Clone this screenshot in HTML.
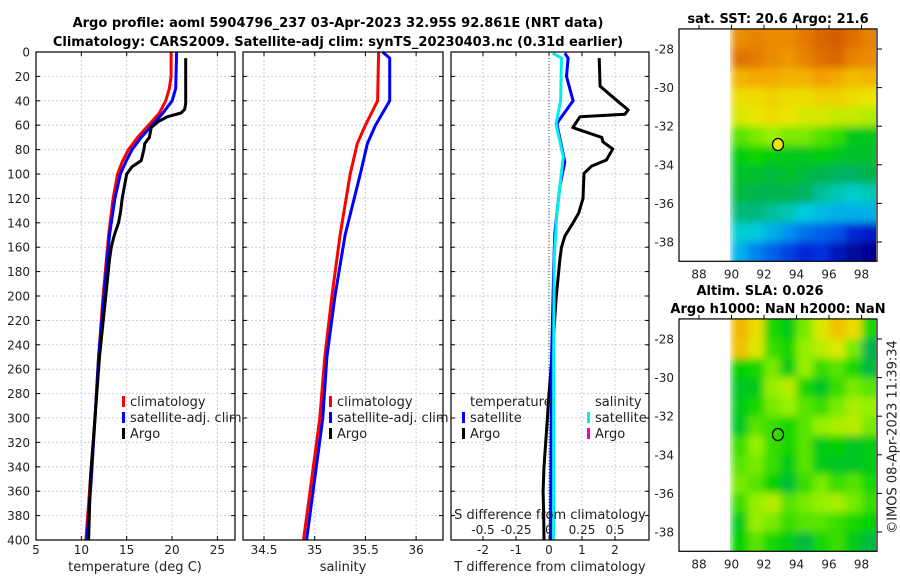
<!DOCTYPE html>
<html><head><meta charset="utf-8">
<style>
html,body{margin:0;padding:0;background:#fff;}
svg{display:block;font-family:"DejaVu Sans","Liberation Sans",sans-serif;}
#stamp{position:absolute;left:893px;top:437px;width:0;height:0;}
#stamp span{position:absolute;left:0;top:0;white-space:nowrap;font:13px "DejaVu Sans","Liberation Sans",sans-serif;color:#222;transform:translate(-50%,-50%) rotate(-90deg);}
</style></head>
<body>
<svg id="fig" width="900" height="580" viewBox="0 0 900 580" xmlns="http://www.w3.org/2000/svg">
<defs>
<filter id="blur" x="-5%" y="-5%" width="110%" height="110%"><feGaussianBlur stdDeviation="4" edgeMode="duplicate"/></filter>
<clipPath id="clip1"><rect x="730" y="29" width="146" height="232"/></clipPath>
<clipPath id="clip2"><rect x="730" y="319" width="146" height="232"/></clipPath>
</defs>
<text x="338" y="27" font-size="13" font-weight="bold" text-anchor="middle">Argo profile: aoml 5904796_237 03-Apr-2023 32.95S 92.861E (NRT data)</text>
<text x="338" y="46" font-size="13" font-weight="bold" text-anchor="middle">Climatology: CARS2009. Satellite-adj clim: synTS_20230403.nc (0.31d earlier)</text>
<text x="778" y="23" font-size="13" font-weight="bold" text-anchor="middle">sat. SST: 20.6 Argo: 21.6</text>
<text x="760" y="295" font-size="13" font-weight="bold" text-anchor="middle">Altim. SLA: 0.026</text>
<text x="778" y="313" font-size="13" font-weight="bold" text-anchor="middle">Argo h1000: NaN h2000: NaN</text>
</svg>
<div id="stamp"><span>©IMOS 08-Apr-2023 11:39:34</span></div>
<script>
// ---------- data ----------
const depthTicks = [0,20,40,60,80,100,120,140,160,180,200,220,240,260,280,300,320,340,360,380,400];
const tempTicks = [5,10,15,20,25];
const salTicks = [34.5,35,35.5,36];
const salTickLabels = ['34.5','35','35.5','36'];
const tdiffTicks = [-2,-1,0,1,2];
const sdiffTicks = [-0.5,-0.25,0,0.25,0.5];
const sdiffTickLabels = ['-0.5','-0.25','0','0.25','0.5'];

const climTempDepth = [0,20,30,40,50,60,70,80,90,100,120,150,200,250,300,350,400];
const climTemp = [19.9,19.9,19.7,19.3,18.6,17.4,16.2,15.2,14.5,14.0,13.5,13.0,12.4,11.9,11.5,11.0,10.5];
const satTempDepth = [0,30,40,50,60,70,80,90,100,120,150,200,250,300,350,400];
const satTemp = [20.5,20.4,20.0,19.0,17.8,16.6,15.6,14.9,14.3,13.7,13.1,12.5,11.9,11.5,11.1,10.6];
const argoTempDepth = [5,28,42,47,50,53,57,62,70,75,80,89,94,100,120,132,140,151,160,170,200,250,300,350,400];
const argoTemp = [21.5,21.5,21.5,21.4,21.0,19.5,18.5,17.7,17.5,17.0,16.9,16.6,15.6,15.0,14.5,14.3,14.1,13.6,13.3,13.1,12.7,12.0,11.5,11.0,10.8];

const climSalDepth = [0,40,60,75,100,150,200,250,300,350,400];
const climSal = [35.63,35.62,35.5,35.42,35.35,35.25,35.17,35.1,35.05,34.97,34.89];
const satSalDepth = [0,5,40,60,75,100,150,200,250,300,350,400];
const satSal = [35.67,35.74,35.74,35.6,35.52,35.45,35.3,35.2,35.12,35.08,35.0,34.92];

const satTdiffDepth = [1,5,20,40,57,59,90,110,132,148,168,250,400];
const satTdiff = [0.48,0.58,0.53,0.73,0.28,0.24,0.48,0.33,0.24,0.18,0.15,0.08,0.05];
const argoTdiffDepth = [5,28,42,47.5,51,53,62,70,73.5,79.5,88.5,93.5,99.5,120,132,140,151,160,170,200,240,280,300,320,340,360,380,400];
const argoTdiff = [1.52,1.55,2.15,2.4,2.3,0.94,0.72,1.6,1.63,1.93,1.74,1.29,1.06,1.03,0.9,0.73,0.48,0.38,0.33,0.22,0.12,0.0,-0.05,-0.1,-0.15,-0.18,-0.16,-0.15];
const satSdiffDepth = [1,5,40,59,86,105,132,168,250,400];
const satSdiff = [0.028,0.095,0.088,0.053,0.108,0.088,0.06,0.04,0.035,0.035];

const mapLonTicks = [88,90,92,94,96,98];
const mapLatTicks = [-28,-30,-32,-34,-36,-38];
const gridLons = [90,91,92,93,94,95,96,97,98];
const gridLats = [-27,-28,-29,-30,-31,-32,-33,-34,-35,-36,-37,-38];
const sstGrid = [
[22.0,22.1,22.0,22.0,22.2,22.4,22.5,22.3,22.1],
[22.3,22.2,22.0,21.9,22.1,22.3,22.4,22.1,22.0],
[21.6,21.7,21.7,21.6,21.6,21.8,21.7,21.5,21.6],
[21.2,21.2,21.3,21.2,21.2,21.3,21.3,21.2,21.1],
[21.0,21.1,21.2,21.1,21.0,21.0,20.9,20.9,20.8],
[20.5,20.6,20.7,20.6,20.6,20.5,20.4,20.1,20.1],
[20.2,20.3,20.2,20.1,20.1,20.2,20.1,20.0,20.0],
[20.0,20.0,19.9,20.0,19.9,19.8,19.7,19.7,19.8],
[19.9,19.8,19.8,19.8,19.7,19.5,19.4,19.3,19.4],
[19.6,19.6,19.5,19.4,19.2,19.1,19.0,19.0,19.0],
[19.3,19.2,19.0,18.8,18.6,18.5,18.4,18.1,18.0],
[19.0,18.7,18.5,18.3,18.1,18.2,17.9,17.7,17.6]];
const slaGrid = [
[0.16,0.12,0.02,0.0,0.05,0.10,0.15,0.12,0.02],
[0.15,0.10,0.03,0.02,0.06,0.08,0.10,0.05,-0.04],
[0.01,0.02,0.05,0.00,0.06,0.03,0.04,0.02,-0.03],
[-0.01,0.0,0.06,0.08,0.02,-0.01,0.03,0.05,0.04],
[0.0,0.02,0.05,0.06,0.04,0.03,0.05,0.07,0.06],
[-0.01,0.04,0.03,0.02,0.04,0.06,0.07,0.08,0.05],
[0.03,0.06,0.03,0.02,0.04,0.0,0.01,-0.01,0.0],
[0.04,0.05,0.03,0.0,0.04,0.0,-0.01,-0.01,0.0],
[0.05,0.04,0.01,-0.02,0.03,0.05,0.03,0.04,0.02],
[0.03,0.06,0.08,0.04,0.05,0.06,0.07,0.05,0.03],
[0.0,0.06,0.05,0.03,0.04,0.04,0.03,0.02,0.01],
[0.01,0.04,0.02,0.0,-0.03,0.02,0.03,0.0,-0.03]];
const argoLon = 92.861;
const argoLat = -32.95;

// ---------- helpers ----------
const NS='http://www.w3.org/2000/svg';
const svg=document.getElementById('fig');
function mk(tag,attrs,parent){const e=document.createElementNS(NS,tag);for(const k in attrs)e.setAttribute(k,attrs[k]);(parent||svg).appendChild(e);return e;}
const Y0=52,Y1=540;
const yD=d=>Y0+d*1.22;
const xT=v=>36+(v-5)*9.07;
const xS=v=>264+(v-34.5)*101.4;
const xTd=v=>549+v*33;
const xSd=v=>549+v*4*33;
const panels=[{x0:36,x1:235},{x0:243,x1:443},{x0:451,x1:649}];
const GRID='#c5cde6';

panels.forEach((p,i)=>{
  const g=mk('g',{});
  
  
  depthTicks.forEach(d=>{
    const y=yD(d);
    const l=mk('line',{x1:p.x0,x2:p.x1,y1:y,y2:y,stroke:GRID,'stroke-dasharray':'2,2','stroke-width':1},g);
    
    
    const t1=mk('line',{x1:p.x0,x2:p.x0+4,y1:y,y2:y,stroke:'#000'},g);
    
    
    const t2=mk('line',{x1:p.x1-4,x2:p.x1,y1:y,y2:y,stroke:'#000'},g);
    
    
  });
});
depthTicks.forEach(d=>{
  const t=mk('text',{x:30,y:yD(d)+4.5,'font-size':12,'text-anchor':'end',fill:'#222'});
  
  
  t.textContent=d;
});
function xTicks(ticks,labels,fx,labelY){
  ticks.forEach((v,i)=>{
    const x=fx(v);
    const l=mk('line',{x1:x,x2:x,y1:Y0,y2:Y1,stroke:GRID,'stroke-dasharray':'2,2'});
    
    
    const t1=mk('line',{x1:x,x2:x,y1:Y1-4,y2:Y1,stroke:'#000'});
    
    
    const t2=mk('line',{x1:x,x2:x,y1:Y0,y2:Y0+4,stroke:'#000'});
    
    
    const t=mk('text',{x:x,y:labelY,'font-size':12,'text-anchor':'middle',fill:'#222'});
    
    
    t.textContent=labels[i];
  });
}
xTicks(tempTicks,tempTicks,xT,554);
xTicks(salTicks,salTickLabels,xS,554);
xTicks(tdiffTicks,tdiffTicks,xTd,554);
const zl=mk('line',{x1:549,x2:549,y1:Y0,y2:Y1,stroke:'#355a35','stroke-dasharray':'1,2','stroke-width':1});



function poly(xs,ds,fx,color,name){
  const pts=xs.map((v,i)=>fx(v).toFixed(1)+','+yD(ds[i]).toFixed(1)).join(' ');
  const e=mk('polyline',{points:pts,fill:'none',stroke:color,'stroke-width':3,'stroke-linejoin':'round'});
  
  
}
poly(climTemp,climTempDepth,xT,'#ff0000','climatology-temperature-line');
poly(satTemp,satTempDepth,xT,'#0000ff','satellite-temperature-line');
poly(argoTemp,argoTempDepth,xT,'#000000','argo-temperature-line');
poly(climSal,climSalDepth,xS,'#ff0000','climatology-salinity-line');
poly(satSal,satSalDepth,xS,'#0000ff','satellite-salinity-line');
poly(argoTdiff,argoTdiffDepth,xTd,'#000000','argo-temperature-difference-line');
poly(satTdiff,satTdiffDepth,xTd,'#0000ff','satellite-temperature-difference-line');
poly(satSdiff,satSdiffDepth,xSd,'#00eeee','satellite-salinity-difference-line');

sdiffTicks.forEach((v,i)=>{
  const t=mk('text',{x:xSd(v),y:534,'font-size':12,'text-anchor':'middle',fill:'#222'});
  
  
  t.textContent=sdiffTickLabels[i];
});
panels.forEach((p,i)=>{
  const r=mk('rect',{x:p.x0,y:Y0,width:p.x1-p.x0,height:Y1-Y0,fill:'none',stroke:'#000','stroke-width':1.2});
  
  
});
function txt(x,y,s,name,size,anchor){
  const t=mk('text',{x:x,y:y,'font-size':size||13,'text-anchor':anchor||'start',fill:'#222'});
  
  
  t.textContent=s;return t;
}
txt(135,571,'temperature (deg C)','temperature-axis-title',13,'middle');
txt(343,571,'salinity','salinity-axis-title',13,'middle');
txt(550,571,'T difference from climatology','t-difference-axis-title',13,'middle');
txt(550,519,'S difference from climatology','s-difference-axis-title',13,'middle');
function legItem(x,y,color,label,name){
  const r=mk('rect',{x:x,y:y-10,width:3,height:11,fill:color});
  
  
  txt(x+8,y,label,name,13);
}
legItem(122,406,'#ff0000','climatology','legend-climatology');
legItem(122,422,'#0000ff','satellite-adj. clim','legend-satellite-adj');
legItem(122,438,'#000000','Argo','legend-argo');
legItem(329,406,'#ff0000','climatology','legend-climatology-sal');
legItem(329,422,'#0000ff','satellite-adj. clim','legend-satellite-adj-sal');
legItem(329,438,'#000000','Argo','legend-argo-sal');
txt(470,406,'temperature','legend-temperature-heading',13);
legItem(462,422,'#0000ff','satellite','legend-temperature-satellite');
legItem(462,438,'#000000','Argo','legend-temperature-argo');
txt(595,406,'salinity','legend-salinity-heading',13);
legItem(587,422,'#00eeee','satellite','legend-salinity-satellite');
legItem(587,438,'#ee00cc','Argo','legend-salinity-argo');

// ---------- maps ----------
const stops=[[0,[0,0,130]],[0.12,[0,40,220]],[0.25,[0,150,240]],[0.33,[0,210,220]],[0.42,[0,175,90]],[0.52,[0,210,0]],[0.6,[150,240,0]],[0.68,[235,230,0]],[0.8,[245,165,0]],[0.9,[225,115,0]],[1,[190,70,0]]];
function cmap(t){t=Math.max(0,Math.min(1,t));for(let i=1;i<stops.length;i++){if(t<=stops[i][0]){const a=stops[i-1],b=stops[i];const f=(t-a[0])/(b[0]-a[0]);const c=a[1].map((v,k)=>Math.round(v+(b[1][k]-v)*f));return 'rgb('+c.join(',')+')';}}return 'rgb(190,70,0)';}
const lonX=l=>699+(l-88)*16.25;
function drawMap(top,grid,vmin,vmax,name,fillCircle,clipId){
  const latY=l=>top+20+(-28-l)*19.3;
  const g=mk('g',{});
  
  
  const cg=mk('g',{'clip-path':'url(#'+clipId+')'},g);
  
  
  const bg=mk('g',{filter:'url(#blur)'},cg);
  
  
  grid.forEach((row,r)=>row.forEach((v,c)=>{
    const x=lonX(gridLons[c]),y=latY(gridLats[r]);
    const w=(c===row.length-1)?30:16.8, h=(r===grid.length-1)?30:19.8;
    const rc=mk('rect',{x:x.toFixed(1),y:(r===0?y-10:y).toFixed(1),width:w,height:r===0?h+10:h,fill:cmap((v-vmin)/(vmax-vmin))},bg);
    
    
  }));
  const x0=679,x1=877,y0=latY(-26.96),y1=latY(-39);
  const fr=mk('rect',{x:x0,y:y0,width:x1-x0,height:y1-y0,fill:'none',stroke:'#000','stroke-width':1.2},g);
  
  
  mapLatTicks.forEach(l=>{
    const y=latY(l);
    const tk=mk('line',{x1:x1,x2:x1+5,y1:y,y2:y,stroke:'#000'},g);
    
    
    const t=mk('text',{x:674,y:y+4.5,'font-size':12,'text-anchor':'end',fill:'#222'},g);
    
    
    t.textContent=l;
  });
  mapLonTicks.forEach(l=>{
    const x=lonX(l);
    const tk=mk('line',{x1:x,x2:x,y1:y0-4,y2:y0,stroke:'#000'},g);
    
    
    const t=mk('text',{x:x,y:y1+17,'font-size':12,'text-anchor':'middle',fill:'#222'},g);
    
    
    t.textContent=l;
  });
  const c=mk('ellipse',{cx:lonX(argoLon),cy:latY(argoLat),rx:5.5,ry:6,fill:fillCircle,stroke:'#000','stroke-width':1.3},g);
  
  
}
drawMap(29,sstGrid,17.5,22.8,'sst-map','#e8e800','clip1');
drawMap(319,slaGrid,-0.3,0.3,'sla-map','none','clip2');
</script>
</body></html>
